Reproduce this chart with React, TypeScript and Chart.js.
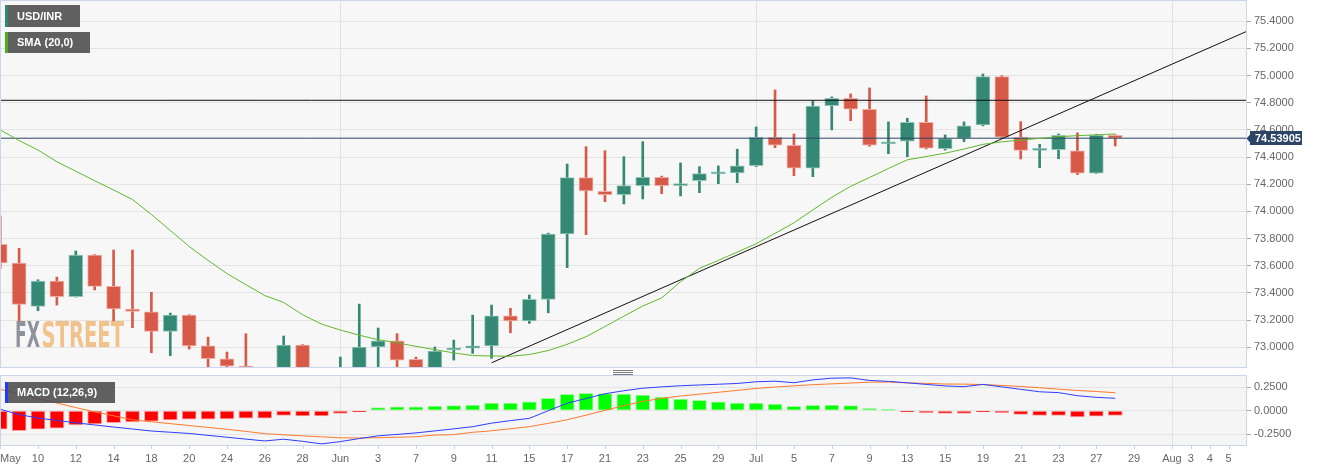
import React, { useEffect, useRef } from 'react';
import { Chart, registerables } from 'chart.js';
Chart.register(...registerables);

const FONT = "'Liberation Sans', Arial, Helvetica, sans-serif";

// ---- data ----
const dates = [
  'May 6','May 7','May 10','May 11','May 12','May 13','May 14','May 17','May 18','May 19','May 20','May 21',
  'May 24','May 25','May 26','May 27','May 28','May 31',
  'Jun 1','Jun 2','Jun 3','Jun 4','Jun 7','Jun 8','Jun 9','Jun 10','Jun 11','Jun 14','Jun 15','Jun 16','Jun 17',
  'Jun 18','Jun 21','Jun 22','Jun 23','Jun 24','Jun 25','Jun 28','Jun 29','Jun 30',
  'Jul 1','Jul 2','Jul 5','Jul 6','Jul 7','Jul 8','Jul 9','Jul 12','Jul 13','Jul 14','Jul 15','Jul 16','Jul 19',
  'Jul 20','Jul 21','Jul 22','Jul 23','Jul 26','Jul 27','Jul 28','Jul 29','Jul 30',
  'Aug 2','Aug 3','Aug 4','Aug 5'
];
const tickIndex = [0,2,4,6,8,10,12,14,16,18,20,22,24,26,28,30,32,34,36,38,40,42,44,46,48,50,52,54,56,58,60,62,63,64,65];
const tickLabels = ['May','10','12','14','18','20','24','26','28','Jun','3','7','9','11','15','17','21','23','25','29',
  'Jul','5','7','9','13','15','19','21','23','27','29','Aug','3','4','5'];
const monthStartIndex = [18, 40, 62];

const open = [73.758,73.620,73.301,73.488,73.372,73.679,73.449,73.282,73.262,73.117,73.237,73.011,72.916,72.862,72.78,72.68,
  73.017,72.62,72.55,72.80,73.002,73.048,72.911,72.83,72.980,72.994,73.011,73.232,73.195,73.353,73.834,74.249,74.148,74.123,
  74.190,74.251,74.190,74.226,74.276,74.283,74.337,74.546,74.487,74.318,74.779,74.833,74.752,74.497,74.517,74.656,74.462,
  74.539,74.637,74.992,74.546,74.450,74.455,74.447,74.281,74.561];
const high = [73.966,73.729,73.497,73.517,73.709,73.682,73.716,73.716,73.405,73.252,73.240,73.075,72.965,73.100,72.84,73.083,
  73.020,72.80,72.928,73.318,73.142,73.100,72.928,73.002,73.053,73.237,73.311,73.287,73.385,73.840,74.349,74.477,74.447,74.403,
  74.514,74.260,74.357,74.330,74.335,74.458,74.622,74.894,74.570,74.813,74.843,74.865,74.909,74.659,74.686,74.850,74.563,
  74.659,75.012,75.000,74.661,74.494,74.570,74.578,74.568,74.565];
const low = [73.581,73.195,73.269,73.311,73.370,73.422,73.195,73.144,72.960,72.938,72.987,72.82,72.83,72.74,72.60,72.62,
  72.55,72.40,72.50,72.75,72.80,72.80,72.78,72.78,72.906,72.955,72.919,73.107,73.176,73.254,73.586,73.829,74.072,74.055,
  74.092,74.131,74.114,74.138,74.204,74.212,74.330,74.469,74.263,74.256,74.600,74.668,74.480,74.425,74.403,74.460,74.452,
  74.514,74.630,74.540,74.386,74.322,74.388,74.271,74.280,74.482];
const close = [73.622,73.316,73.488,73.372,73.679,73.449,73.282,73.265,73.117,73.237,73.011,72.916,72.862,72.78,72.68,73.017,
  72.62,72.48,72.80,73.002,73.048,72.906,72.83,72.972,72.997,73.011,73.232,73.195,73.353,73.834,74.249,74.151,74.123,74.190,
  74.251,74.190,74.202,74.278,74.281,74.335,74.546,74.487,74.318,74.776,74.833,74.752,74.487,74.509,74.656,74.465,74.536,
  74.631,74.992,74.546,74.450,74.455,74.561,74.281,74.561,74.53905];
const sma20 = [74.600,74.522,74.452,74.366,74.296,74.226,74.158,74.088,73.978,73.860,73.742,73.640,73.543,73.461,73.381,73.330,
  73.240,73.171,73.127,73.089,73.056,73.033,73.007,72.983,72.959,72.939,72.936,72.934,72.947,72.976,73.022,73.078,73.153,
  73.229,73.304,73.363,73.483,73.581,73.640,73.701,73.762,73.839,73.916,74.011,74.104,74.185,74.250,74.316,74.380,74.404,
  74.429,74.459,74.494,74.512,74.525,74.538,74.550,74.558,74.564,74.570];
const macdLine = [0.015,-0.041,-0.078,-0.103,-0.128,-0.151,-0.173,-0.194,-0.215,-0.228,-0.241,-0.261,-0.281,-0.301,-0.320,-0.302,
  -0.324,-0.351,-0.327,-0.295,-0.266,-0.251,-0.235,-0.214,-0.192,-0.169,-0.132,-0.105,-0.081,0.000,0.079,0.129,0.179,0.211,
  0.238,0.252,0.264,0.272,0.280,0.288,0.306,0.312,0.296,0.326,0.344,0.347,0.320,0.310,0.295,0.278,0.262,0.254,0.278,0.252,
  0.226,0.200,0.191,0.159,0.141,0.131];
const signalLine = [0.226,0.177,0.129,0.081,0.033,-0.013,-0.054,-0.097,-0.117,-0.137,-0.157,-0.177,-0.197,-0.219,-0.243,-0.255,
  -0.266,-0.276,-0.287,-0.289,-0.286,-0.281,-0.276,-0.258,-0.253,-0.229,-0.213,-0.191,-0.169,-0.134,-0.096,-0.047,0.003,0.053,
  0.099,0.130,0.155,0.175,0.195,0.215,0.235,0.250,0.263,0.275,0.284,0.292,0.302,0.303,0.294,0.289,0.282,0.281,0.277,0.267,
  0.256,0.243,0.228,0.214,0.203,0.190];
const histogram = [-0.196,-0.211,-0.196,-0.186,-0.151,-0.140,-0.127,-0.119,-0.112,-0.098,-0.091,-0.091,-0.088,-0.080,-0.080,
  -0.049,-0.056,-0.056,-0.028,-0.003,0.032,0.042,0.042,0.049,0.053,0.060,0.081,0.081,0.095,0.131,0.173,0.183,0.180,0.176,
  0.166,0.145,0.123,0.110,0.095,0.081,0.081,0.071,0.046,0.057,0.060,0.053,0.025,0.005,-0.003,-0.02,-0.03,-0.03,-0.004,-0.02,
  -0.04,-0.05,-0.05,-0.065,-0.059,-0.05];

const priceTicks = [73.0, 73.2, 73.4, 73.6, 73.8, 74.0, 74.2, 74.4, 74.6, 74.8, 75.0, 75.2, 75.4];
const macdTicks = [-0.25, 0, 0.25];
const resistanceLevel = 74.818;
const trendX = [26, 66];
const trendY = [72.886, 75.328];

const X_MIN = -0.01;
const X_MAX = 65.92;
const PRICE_MIN = 72.855;
const PRICE_MAX = 75.549;
const MACD_MIN = -0.363;
const MACD_MAX = 0.367;

const UP = '#358873';
const UP_EDGE = '#93c7ba';
const DOWN = '#d65a47';
const DOWN_EDGE = '#f0aca2';
const FRAME = '#ccd6eb';
const GRID = '#e4e4e4';

function drawLabel(ctx: CanvasRenderingContext2D, x: number, y: number, w: number, h: number, stripe: string, text: string) {
  ctx.save();
  ctx.fillStyle = 'rgba(75,75,75,0.88)';
  ctx.fillRect(x, y, w, h);
  ctx.fillStyle = stripe;
  ctx.fillRect(x, y, 3, h);
  ctx.fillStyle = '#ffffff';
  ctx.font = `bold 11px ${FONT}`;
  ctx.textBaseline = 'middle';
  ctx.textAlign = 'left';
  ctx.fillText(text, x + 12, y + h / 2 + 0.5);
  ctx.restore();
}

function drawMonthLines(chart: any) {
  const { ctx, chartArea: a, scales } = chart;
  ctx.save();
  ctx.strokeStyle = '#e2e2e2';
  ctx.lineWidth = 1;
  monthStartIndex.forEach((k) => {
    const px = Math.round(scales.x.getPixelForValue(k)) + 0.5;
    ctx.beginPath();
    ctx.moveTo(px, a.top);
    ctx.lineTo(px, a.bottom);
    ctx.stroke();
  });
  ctx.restore();
}

function drawFrame(chart: any) {
  const { ctx, chartArea: a } = chart;
  ctx.save();
  ctx.strokeStyle = FRAME;
  ctx.lineWidth = 1;
  ctx.strokeRect(a.left + 0.5, a.top - 0.5, a.right - a.left, a.bottom - a.top + 1);
  ctx.restore();
}

const fitRight = (s: any) => {
  s.width = 77;
  s.paddingTop = 0;
  s.paddingBottom = 0;
  s.paddingLeft = 0;
  s.paddingRight = 0;
};

const mainDecor = {
  id: 'mainDecor',
  beforeDraw(chart: any) {
    const { ctx, chartArea: a } = chart;
    ctx.save();
    ctx.fillStyle = '#f7f7f7';
    ctx.fillRect(a.left, a.top, a.right - a.left, a.bottom - a.top);
    ctx.restore();
  },
  beforeDatasetsDraw(chart: any) {
    drawMonthLines(chart);
    const ctx = chart.ctx as CanvasRenderingContext2D;
    ctx.save();
    ctx.font = `bold 35px 'Liberation Sans Narrow', 'DejaVu Sans Condensed', ${FONT}`;
    ctx.textBaseline = 'alphabetic';
    const wFX = ctx.measureText('FX').width;
    const wST = ctx.measureText('STREET').width;
    ctx.save();
    ctx.translate(15, 347);
    ctx.scale(25 / wFX, 1);
    ctx.fillStyle = '#8f929c';
    ctx.fillText('FX', 0, 0);
    ctx.restore();
    ctx.save();
    ctx.translate(41.5, 347);
    ctx.scale(82.5 / wST, 1);
    ctx.fillStyle = '#f1c28b';
    ctx.fillText('STREET', 0, 0);
    ctx.restore();
    ctx.restore();
  },
  afterDraw(chart: any) {
    const { ctx, scales } = chart;
    drawFrame(chart);
    drawLabel(ctx, 5, 5, 75, 22, '#2a8a78', 'USD/INR');
    drawLabel(ctx, 5, 32, 85, 21, '#4caf1a', 'SMA (20,0)');
    const last = close[close.length - 1];
    const py = Math.round(scales.y.getPixelForValue(last));
    ctx.save();
    ctx.fillStyle = '#2c4466';
    ctx.beginPath();
    ctx.moveTo(1250, py - 3.5);
    ctx.lineTo(1246.5, py + 0.5);
    ctx.lineTo(1250, py + 4.5);
    ctx.closePath();
    ctx.fill();
    ctx.fillRect(1250, py - 7, 52, 14);
    ctx.fillStyle = '#ffffff';
    ctx.font = `bold 11px ${FONT}`;
    ctx.textBaseline = 'middle';
    ctx.textAlign = 'left';
    ctx.fillText(last.toFixed(5), 1255, py + 0.5);
    ctx.restore();
  }
};

const macdDecor = {
  id: 'macdDecor',
  beforeDraw(chart: any) {
    const { ctx, chartArea: a } = chart;
    ctx.save();
    ctx.fillStyle = '#f5f5f5';
    ctx.fillRect(a.left, a.top, a.right - a.left, a.bottom - a.top);
    ctx.restore();
  },
  beforeDatasetsDraw(chart: any) {
    drawMonthLines(chart);
  },
  afterDraw(chart: any) {
    const { ctx, chartArea: a, scales } = chart;
    drawFrame(chart);
    ctx.save();
    ctx.strokeStyle = '#7a7a7a';
    ctx.lineWidth = 1;
    [2.5, 4.5, 6.5].forEach((yy) => {
      ctx.beginPath();
      ctx.moveTo(613, yy);
      ctx.lineTo(633, yy);
      ctx.stroke();
    });
    ctx.restore();
    ctx.save();
    ctx.strokeStyle = FRAME;
    ctx.fillStyle = '#666666';
    ctx.font = `11px ${FONT}`;
    ctx.textBaseline = 'alphabetic';
    ctx.textAlign = 'left';
    tickIndex.forEach((k, i) => {
      const px = scales.x.getPixelForValue(k);
      const rx = Math.round(px) + 0.5;
      ctx.beginPath();
      ctx.moveTo(rx, a.bottom);
      ctx.lineTo(rx, a.bottom + 4);
      ctx.stroke();
      const label = tickLabels[i];
      const w = ctx.measureText(label).width;
      let lx = px - w / 2;
      if (lx < 0) lx = 0;
      ctx.fillText(label, lx, a.bottom + 17);
    });
    ctx.restore();
    drawLabel(ctx, 5, 14, 110, 21, '#1f3cff', 'MACD (12,26,9)');
  }
};

export default function App() {
  const mainRef = useRef<HTMLCanvasElement>(null);
  const macdRef = useRef<HTMLCanvasElement>(null);

  useEffect(() => {
    Chart.defaults.font.family = FONT;
    const up = close.map((c, i) => c >= open[i]);
    const xScale = {
      type: 'linear' as const,
      min: X_MIN,
      max: X_MAX,
      offset: false,
      display: false,
      grid: { offset: false },
    };
    const yTicks = {
      color: '#666666',
      font: { family: FONT, size: 11 },
      padding: 3,
      callback: (v: any) => Number(v).toFixed(4),
    };

    const main = new Chart(mainRef.current as HTMLCanvasElement, {
      type: 'bar',
      data: {
        datasets: [
          {
            type: 'line',
            label: 'SMA (20,0)',
            data: sma20.map((v, i) => ({ x: i, y: v })),
            borderColor: '#62b82c',
            borderWidth: 1,
            pointRadius: 0,
            tension: 0,
            order: 0,
          } as any,
          {
            type: 'line',
            label: 'Trend',
            data: trendX.map((x, i) => ({ x, y: trendY[i] })),
            borderColor: '#111111',
            borderWidth: 1,
            pointRadius: 0,
            order: 0,
          } as any,
          {
            type: 'line',
            label: 'Resistance',
            data: [{ x: X_MIN, y: resistanceLevel }, { x: X_MAX, y: resistanceLevel }],
            borderColor: '#111111',
            borderWidth: 1,
            pointRadius: 0,
            order: 0,
          } as any,
          {
            type: 'line',
            label: 'Last',
            data: [{ x: X_MIN, y: close[close.length - 1] }, { x: X_MAX, y: close[close.length - 1] }],
            borderColor: '#2c4466',
            borderWidth: 1,
            pointRadius: 0,
            order: 0,
          } as any,
          {
            type: 'bar',
            label: 'Body',
            data: close.map((c, i) => ({ x: i, y: [open[i], c] })),
            backgroundColor: up.map((u) => (u ? UP : DOWN)),
            borderColor: up.map((u) => (u ? UP_EDGE : DOWN_EDGE)),
            borderWidth: 1,
            borderSkipped: false,
            barThickness: 14,
            minBarLength: 2,
            grouped: false,
            order: 2,
          } as any,
          {
            type: 'bar',
            label: 'Wick',
            data: close.map((_, i) => ({ x: i, y: [low[i], high[i]] })),
            backgroundColor: up.map((u) => (u ? UP : DOWN)),
            borderWidth: 0,
            barThickness: 2,
            grouped: false,
            order: 3,
          } as any,
        ],
      },
      options: {
        responsive: false,
        animation: false,
        events: [],
        layout: { padding: { top: 1, bottom: 1, left: 0, right: 0 } },
        plugins: { legend: { display: false }, tooltip: { enabled: false } },
        scales: {
          x: xScale as any,
          y: {
            type: 'linear',
            position: 'right',
            min: PRICE_MIN,
            max: PRICE_MAX,
            afterBuildTicks: (s: any) => { s.ticks = priceTicks.map((v) => ({ value: v })); },
            afterFit: fitRight,
            grid: { color: GRID, tickColor: '#a8a8a8', tickLength: 5, lineWidth: 1 },
            border: { display: true, color: FRAME },
            ticks: yTicks,
          } as any,
        },
      },
      plugins: [mainDecor],
    });

    const macd = new Chart(macdRef.current as HTMLCanvasElement, {
      type: 'bar',
      data: {
        datasets: [
          {
            type: 'line',
            label: 'MACD',
            data: macdLine.map((v, i) => ({ x: i, y: v })),
            borderColor: '#2f3dff',
            borderWidth: 1,
            pointRadius: 0,
            order: 0,
          } as any,
          {
            type: 'line',
            label: 'Signal',
            data: signalLine.map((v, i) => ({ x: i, y: v })),
            borderColor: '#ff7a2a',
            borderWidth: 1,
            pointRadius: 0,
            order: 0,
          } as any,
          {
            type: 'bar',
            label: 'Histogram',
            data: histogram.map((v, i) => ({ x: i, y: v })),
            backgroundColor: histogram.map((v) => (v >= 0 ? '#00ff00' : '#ff0000')),
            borderColor: histogram.map((v) => (v >= 0 ? '#a6f7a6' : '#f7a6a6')),
            borderWidth: 1,
            borderSkipped: false,
            barThickness: 14,
            minBarLength: 1,
            grouped: false,
            order: 1,
          } as any,
        ],
      },
      options: {
        responsive: false,
        animation: false,
        events: [],
        layout: { padding: { top: 8, bottom: 26, left: 0, right: 0 } },
        plugins: { legend: { display: false }, tooltip: { enabled: false } },
        scales: {
          x: xScale as any,
          y: {
            type: 'linear',
            position: 'right',
            min: MACD_MIN,
            max: MACD_MAX,
            afterBuildTicks: (s: any) => { s.ticks = macdTicks.map((v) => ({ value: v })); },
            afterFit: fitRight,
            grid: { color: GRID, tickColor: '#a8a8a8', tickLength: 5, lineWidth: 1 },
            border: { display: true, color: FRAME },
            ticks: yTicks,
          } as any,
        },
      },
      plugins: [macdDecor],
    });

    return () => {
      main.destroy();
      macd.destroy();
    };
  }, []);

  return (
    <div style={{ position: 'fixed', left: 0, top: 0, width: 1323, height: 471, background: '#ffffff', overflow: 'hidden' }}>
      <canvas ref={mainRef} width={1323} height={368} style={{ position: 'absolute', left: 0, top: 0 }} />
      <canvas ref={macdRef} width={1323} height={103} style={{ position: 'absolute', left: 0, top: 368 }} />
    </div>
  );
}
